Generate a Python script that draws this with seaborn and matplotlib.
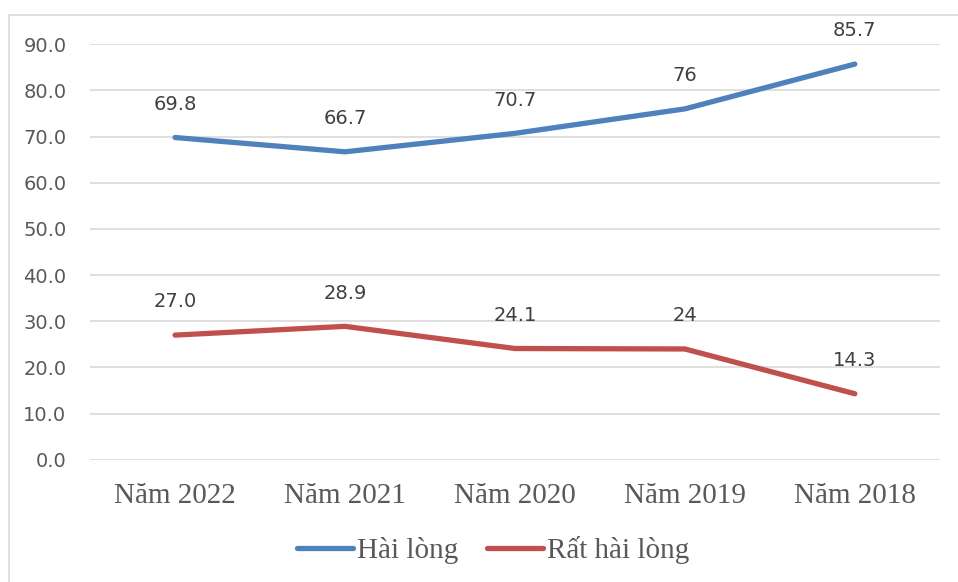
import numpy as np
import pandas as pd
import seaborn as sns
import matplotlib.pyplot as plt
from matplotlib.patches import Rectangle

years = ["Năm 2022", "Năm 2021", "Năm 2020", "Năm 2019", "Năm 2018"]
hai_long = [69.8, 66.7, 70.7, 76, 85.7]
rat_hai_long = [27.0, 28.9, 24.1, 24, 14.3]
hai_long_labels = ["69.8", "66.7", "70.7", "76", "85.7"]
rat_hai_long_labels = ["27.0", "28.9", "24.1", "24", "14.3"]
series = ["Hài lòng", "Rất hài lòng"]
colors = ["#4F81BD", "#C0504D"]

df = pd.DataFrame({
    "year": years * 2,
    "value": hai_long + rat_hai_long,
    "series": [series[0]] * 5 + [series[1]] * 5,
})

sns.set_style("white")
plt.rcParams["font.family"] = ["DejaVu Sans"]

fig = plt.figure(figsize=(9.58, 5.82), dpi=100)
ax = fig.add_axes([0.094, 0.210, 0.887, 0.714])

sns.lineplot(data=df, x="year", y="value", hue="series", palette=colors,
             sort=False, linewidth=3.8, ax=ax, legend=False)
for line in ax.lines:
    line.set_solid_capstyle("round")

# data labels above each point
for vals, labs in [(hai_long, hai_long_labels), (rat_hai_long, rat_hai_long_labels)]:
    for i, (v, t) in enumerate(zip(vals, labs)):
        ax.annotate(t, (i, v), xytext=(0, 24), textcoords="offset points",
                    ha="center", va="center", fontsize=14, color="#404040")

ax.set_xlim(-0.5, 4.5)
ax.set_ylim(0, 90)
ax.set_yticks(np.arange(0, 91, 10))
ax.set_yticklabels([f"{v:.1f}" for v in np.arange(0, 91, 10)])
ax.yaxis.grid(True, color="#D9D9D9", linewidth=1.2)
ax.set_axisbelow(True)
for s in ax.spines.values():
    s.set_visible(False)
ax.tick_params(axis="y", length=0, pad=17, labelsize=14, labelcolor="#595959")
ax.tick_params(axis="x", length=0, pad=17, labelcolor="#595959")
for lab in ax.get_xticklabels():
    lab.set_fontfamily("Liberation Serif")
    lab.set_fontsize(21)
ax.set_xlabel("")
ax.set_ylabel("")

handles = [plt.Line2D([], [], color=c, linewidth=3.8, solid_capstyle="round") for c in colors]
fig.legend(handles, series, loc="center", bbox_to_anchor=(0.515, 0.055), ncol=2,
           frameon=False, handlelength=1.9, handletextpad=0.15, columnspacing=1.0,
           prop={"family": "Liberation Serif", "size": 21}, labelcolor="#595959")

# chart area border
fig.add_artist(Rectangle((9 / 958, -0.01), 1.0, 1 - 15 / 582 + 0.01,
                         transform=fig.transFigure, fill=False,
                         edgecolor="#D9D9D9", linewidth=1.2))

fig.savefig("out.png", dpi=100)
